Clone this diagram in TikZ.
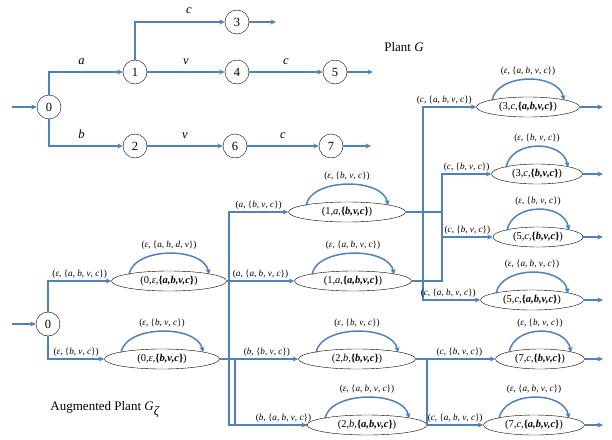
\documentclass[tikz,border=0pt]{standalone}
\usepackage{fontspec}
\setmainfont{Liberation Serif}
\usetikzlibrary{shapes.geometric, arrows.meta, calc}
\definecolor{edgeblue}{RGB}{79,129,189}
\tikzset{
  pstate/.style={circle, draw=black, fill=white, minimum size=24pt, inner sep=0pt, font=\fontsize{12.5}{13}\selectfont},
  astate/.style={ellipse, draw=black, fill=white, minimum height=20pt, inner sep=1pt, font=\fontsize{10.5}{11}\selectfont},
  trans/.style={-{Stealth[length=5.5pt,width=5pt]}, draw=edgeblue, line width=1.5pt},
  wire/.style={draw=edgeblue, line width=1.5pt},
  lbl/.style={font=\fontsize{9.2}{10}\selectfont, inner sep=1pt},
  evlbl/.style={font=\fontsize{12.5}{13}\selectfont\itshape, inner sep=1pt},
}
% self-loop above an ellipse: node, half spread, label
\newcommand{\selfloop}[3]{%
  \draw[trans] ($(#1)+(-#2,6.5)$) .. controls +(5,28) and +(-5,28) .. ($(#1)+(#2,6.5)$)
    node[midway, above=2pt, lbl] {#3};}
\newcommand{\mi}[1]{\textit{#1}}
\newcommand{\sabvc}{\{\mi{a}, \mi{b}, \mi{v}, \mi{c}\}}
\newcommand{\sbvc}{\{\mi{b}, \mi{v}, \mi{c}\}}
\newcommand{\bset}[1]{\textbf{\{\textit{#1}\}}}

\begin{document}
\begin{tikzpicture}[x=1pt, y=1pt]
\useasboundingbox (0,0) rectangle (612,-439);

% Plant G
\node[pstate] (n0) at (49,-107) {0};
\node[pstate] (n1) at (135,-72) {1};
\node[pstate] (n3) at (237,-22) {3};
\node[pstate] (n4) at (237,-72) {4};
\node[pstate] (n5) at (335,-72) {5};
\node[pstate] (n2) at (135,-146) {2};
\node[pstate] (n6) at (235,-146) {6};
\node[pstate] (n7) at (331,-146) {7};
\node[font=\fontsize{13}{14}\selectfont] (titleG) at (404,-47) {Plant \mi{G}};

\coordinate (in0) at (12,-107);
\coordinate (out3) at (276,-22);
\coordinate (out5) at (373,-72);
\coordinate (out7) at (371,-146);

\draw[trans] (in0) -- (n0);
\draw[trans] (n0.north) |- node[pos=0.72, above=6pt, evlbl] {a} (n1.west);
\draw[trans] (n0.south) |- node[pos=0.72, above=6pt, evlbl] {b} (n2.west);
\draw[trans] (n1.north) |- node[pos=0.8, above=7pt, evlbl] {c} (n3.west);
\draw[trans] (n1) -- node[above=6pt, evlbl] {v} (n4);
\draw[trans] (n4) -- node[above=6pt, evlbl] {c} (n5);
\draw[trans] (n2) -- node[above=6pt, evlbl] {v} (n6);
\draw[trans] (n6) -- node[above=6pt, evlbl] {c} (n7);
\draw[trans] (n3) -- (out3);
\draw[trans] (n5) -- (out5);
\draw[trans] (n7) -- (out7);

% Augmented plant
\node[pstate] (a0) at (48,-324) {0};
\node[font=\fontsize{13}{14}\selectfont] (titleGz) at (105,-410) {Augmented Plant \mi{G}$_{\mi{ζ}}$};

\node[astate, minimum width=115pt] (e0a) at (169,-281) {(0,\mi{ε},\bset{a,b,v,c})};
\node[astate, minimum width=115pt] (e0b) at (162,-359) {(0,\mi{ε},\bset{b,v,c})};
\node[astate, minimum width=117pt] (e1b) at (347,-212) {(1,\mi{a},\bset{b,v,c})};
\node[astate, minimum width=117pt] (e1ab) at (353,-281) {(1,\mi{a},\bset{a,b,v,c})};
\node[astate, minimum width=117pt] (e2b) at (357,-359) {(2,\mi{b},\bset{b,v,c})};
\node[astate, minimum width=120pt] (e2ab) at (367,-425) {(2,\mi{b},\bset{a,b,v,c})};
\node[astate, minimum width=103pt] (e3ab) at (528,-107) {(3,\mi{c},\bset{a,b,v,c})};
\node[astate, minimum width=91pt] (e3b) at (537,-174) {(3,\mi{c},\bset{b,v,c})};
\node[astate, minimum width=90pt] (e5b) at (538,-237) {(5,\mi{c},\bset{b,v,c})};
\node[astate, minimum width=103pt] (e5ab) at (532,-300) {(5,\mi{c},\bset{a,b,v,c})};
\node[astate, minimum width=89pt] (e7b) at (540,-359) {(7,\mi{c},\bset{b,v,c})};
\node[astate, minimum width=101pt] (e7ab) at (534,-425) {(7,\mi{c},\bset{a,b,v,c})};

% junctions
\coordinate (ja) at (229,-281);
\coordinate (jb) at (235,-359);
\coordinate (jc) at (423,-212);
\coordinate (jd) at (442,-212);
\coordinate (je) at (427,-359);
\coordinate (ain) at (12,-324);
\foreach \e/\y in {e3ab/107, e3b/174, e5b/237, e5ab/300, e7b/359, e7ab/425}
  \coordinate (out\e) at (603,-\y);

\draw[trans] (ain) -- (a0);
\draw[trans] (a0.north) |- node[pos=0.75, above=1pt, lbl] {(\mi{ε}, \sabvc)} (e0a.west);
\draw[trans] (a0.south) |- node[pos=0.75, above=1pt, lbl] {(\mi{ε}, \sbvc)} (e0b.west);

\draw[trans] (e0a) -- node[above=1pt, lbl] {(\mi{a}, \sabvc)} (e1ab);
\draw[trans] (ja) |- node[pos=0.75, above=1pt, lbl] {(\mi{a}, \sbvc)} (e1b.west);
\draw[trans] (ja) |- node[pos=0.85, above=1pt, lbl] {(\mi{b}, \sabvc)} (e2ab.west);
\draw[trans] (e0b) -- node[pos=0.6, above=1pt, lbl] {(\mi{b}, \sbvc)} (e2b);
\draw[wire] (jb) |- (e2ab.west);

\draw[wire] (e1b.east) -- (jd);
\draw[trans] (jd) |- node[pos=0.75, above=1pt, lbl] {(\mi{c}, \sbvc)} (e3b.west);
\draw[trans] (jd) |- node[pos=0.75, above=1pt, lbl] {(\mi{c}, \sbvc)} (e5b.west);
\draw[wire] (e1ab.east) -| (jd);
\draw[trans] (jc) |- node[pos=0.7, above=1pt, lbl] {(\mi{c}, \sabvc)} (e3ab.west);
\draw[trans] (jc) |- node[pos=0.72, above=1pt, lbl] {(\mi{c}, \sabvc)} (e5ab.west);

\draw[trans] (e2b) -- node[pos=0.55, above=1pt, lbl] {(\mi{c}, \sbvc)} (e7b);
\draw[trans] (je) |- node[pos=0.75, above=1pt, lbl] {(\mi{c}, \sabvc)} (e7ab.west);

\foreach \e in {e3ab, e3b, e5b, e5ab, e7b, e7ab}
  \draw[trans] (\e) -- (out\e);

% self-loops
\selfloop{e0a}{40}{(\mi{ε}, \{\mi{a}, \mi{b}, \mi{d}, \mi{v}\})}
\selfloop{e0b}{41}{(\mi{ε}, \sbvc)}
\selfloop{e1b}{41}{(\mi{ε}, \sbvc)}
\selfloop{e1ab}{41}{(\mi{ε}, \sabvc)}
\selfloop{e2b}{41}{(\mi{ε}, \sbvc)}
\selfloop{e2ab}{42}{(\mi{ε}, \sabvc)}
\selfloop{e3ab}{36}{(\mi{ε}, \sabvc)}
\selfloop{e3b}{31}{(\mi{ε}, \sbvc)}
\selfloop{e5b}{31}{(\mi{ε}, \sbvc)}
\selfloop{e5ab}{36}{(\mi{ε}, \sabvc)}
\selfloop{e7b}{31}{(\mi{ε}, \sbvc)}
\selfloop{e7ab}{35}{(\mi{ε}, \sabvc)}
\end{tikzpicture}
\end{document}
